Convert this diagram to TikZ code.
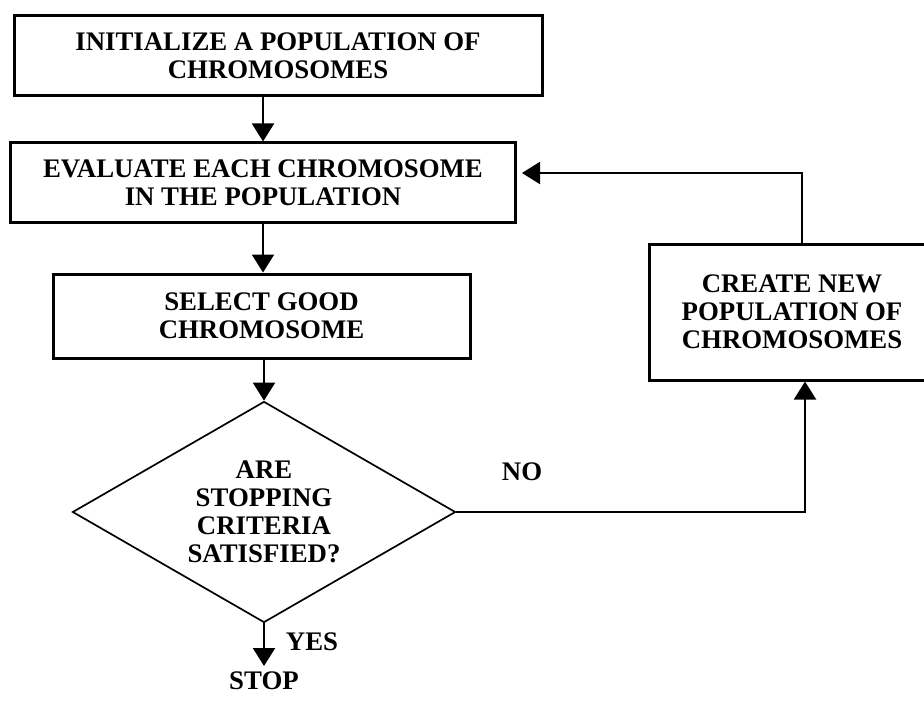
\documentclass[tikz,border=0pt]{standalone}
\usepackage{fontspec}
\setmainfont{Liberation Serif}
\usetikzlibrary{shapes.geometric,arrows.meta}
\newcommand{\stagebox}[4][]{\node[draw,line width=1.5pt,align=center,inner sep=0pt,#1] at (#2) (#3) {#4}}
\tikzset{flow/.style={line width=1pt,-{Triangle[width=11pt,length=9pt]}}}

\begin{document}
\begin{tikzpicture}[x=0.5pt,y=-0.5pt,font=\bfseries\fontsize{13.4}{14}\selectfont]
  \useasboundingbox (0,0) rectangle (924,700);
  \clip (0,0) rectangle (924,700);
  \stagebox[minimum width=264pt,minimum height=40pt]{278,56}{init}{INITIALIZE A POPULATION OF\\CHROMOSOMES};
  \stagebox[minimum width=252.5pt,minimum height=39.5pt]{263,182.5}{eval}{EVALUATE EACH CHROMOSOME\\IN THE POPULATION};
  \stagebox[minimum width=208.5pt,minimum height=42pt]{261.5,316}{select}{SELECT GOOD\\CHROMOSOME};
  \stagebox[minimum width=143pt,minimum height=68pt]{792,312}{new}{CREATE NEW\\POPULATION OF\\CHROMOSOMES};
  \node[diamond,draw,line width=0.85pt,aspect=1.73,minimum width=191.5pt,minimum height=110.5pt,
        inner sep=0pt,align=center] at (264,512) (decide) {ARE\\STOPPING\\CRITERIA\\SATISFIED?};
  \node (yes) at (312,642) {YES};
  \node (no)  at (522,472) {NO};
  \node[anchor=north,inner sep=0.5pt] (stop) at (264,670) {STOP};
  \draw[flow] (eval.north |- init.south) -- (eval.north);
  \draw[flow] (eval.south) -- (eval.south |- select.north);
  \draw[flow] (select.south -| decide.north) -- (decide.north);
  \draw[flow,shorten >=2pt] (decide.south) -- (stop.north);
  \draw[flow] (decide.east) -| ([xshift=6.5pt]new.south);
  \draw[flow,shorten >=2.5pt] ([xshift=5pt]new.north) |- ([yshift=4.75pt]eval.east);
\end{tikzpicture}
\end{document}
